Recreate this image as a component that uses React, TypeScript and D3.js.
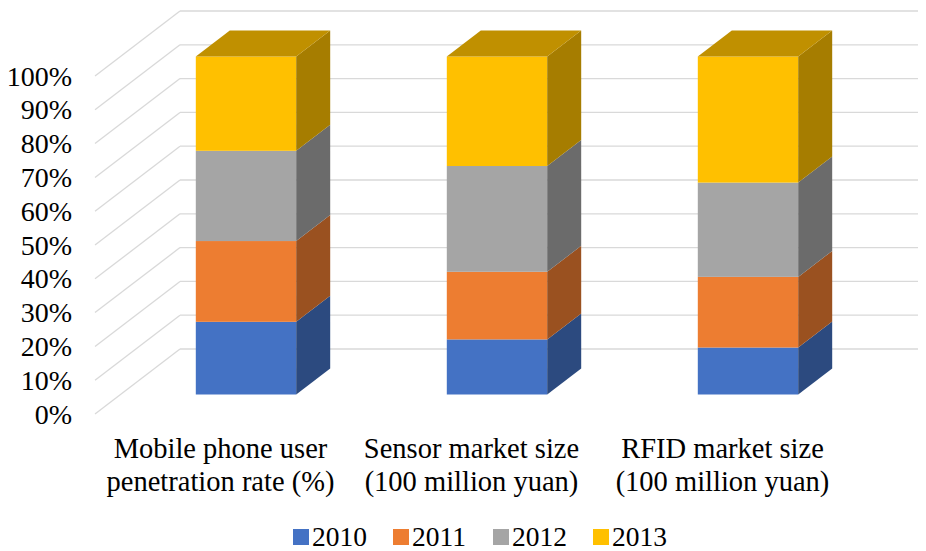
import React from "react";
import * as d3 from "d3";

// Share of each year within each indicator (percent of the column total)
const categories = [
  "Mobile phone user penetration rate (%)",
  "Sensor market size (100 million yuan)",
  "RFID market size (100 million yuan)",
];
const categoryLines = [
  ["Mobile phone user", "penetration rate (%)"],
  ["Sensor market size", "(100 million yuan)"],
  ["RFID market size", "(100 million yuan)"],
];
const years = ["2010", "2011", "2012", "2013"];
const values2010 = [21.5, 16.3, 13.9];
const values2011 = [23.9, 20.0, 20.9];
const values2012 = [26.7, 31.3, 27.9];
const values2013 = [27.9, 32.4, 37.3];
const tickValues = d3.range(0, 1.0001, 0.1);

const W = 926;
const H = 551;
const FONT = "Liberation Serif";

// series colours: front face, side face, top face
const colors: Record<string, { front: string; side: string; top: string }> = {
  "2010": { front: "#4472C4", side: "#2C4A7F", top: "#335A9C" },
  "2011": { front: "#ED7D31", side: "#9A5120", top: "#BB6327" },
  "2012": { front: "#A5A5A5", side: "#6B6B6B", top: "#838383" },
  "2013": { front: "#FFC000", side: "#A67D00", top: "#C09000" },
};

// oblique depth vector of the floor (front edge -> back wall)
const DX = 85;
const DY = -65;
const BAR_D0 = 0.3; // bar front plane, fraction of depth
const BAR_D1 = 0.7; // bar back plane

const css = `
  .chart-text { font-family: "Liberation Serif", "Times New Roman", Tinos, serif !important; fill: #000; }
`;

export default function App() {
  const rows = categories.map((c, i) => ({
    category: c,
    "2010": values2010[i],
    "2011": values2011[i],
    "2012": values2012[i],
    "2013": values2013[i],
  }));

  const stacked = d3
    .stack<any>()
    .keys(years)
    .offset(d3.stackOffsetExpand)(rows);

  const x = d3
    .scaleBand<string>()
    .domain(categories)
    .range([95, 848])
    .paddingInner(0.6)
    .paddingOuter(0.3);
  const y = d3.scaleLinear().domain([0, 1]).range([414, 76]);
  const band = d3.scaleBand<string>().domain(categories).range([95, 848]);

  const fmt = d3.format(".0%");
  const pt = (px: number, py: number, d: number) =>
    `${px + d * DX},${py + d * DY}`;

  const legendX = d3.scalePoint<string>().domain(years).range([293, 593]);

  return (
    <svg
      width={W}
      height={H}
      style={{ display: "block", margin: "-8px 0 0 -8px", background: "#fff" }}
    >
      <style>{css}</style>

      {/* back wall gridlines */}
      <g stroke="#D9D9D9" strokeWidth={1.3} fill="none">
        {tickValues.map((t) => (
          <line
            key={"b" + t}
            x1={95 + DX}
            x2={848 + DX}
            y1={y(t) + DY}
            y2={y(t) + DY}
          />
        ))}
        {/* side wall gridlines */}
        {tickValues.map((t) => (
          <line
            key={"s" + t}
            x1={95}
            y1={y(t)}
            x2={95 + DX}
            y2={y(t) + DY}
          />
        ))}
      </g>

      {/* stacked 3D columns */}
      {categories.map((c, ci) => {
        const x0 = x(c)! + BAR_D0 * DX;
        const x1 = x0 + x.bandwidth();
        const dd = BAR_D1 - BAR_D0;
        return (
          <g key={c}>
            {stacked.map((s, si) => {
              const col = colors[s.key];
              const yb = y(s[ci][0]) + BAR_D0 * DY;
              const yt = y(s[ci][1]) + BAR_D0 * DY;
              const isTop = si === stacked.length - 1;
              return (
                <g key={s.key}>
                  <rect
                    x={x0}
                    y={yt}
                    width={x1 - x0}
                    height={yb - yt}
                    fill={col.front}
                  />
                  <polygon
                    points={[
                      pt(x1, yb, 0),
                      pt(x1, yb, dd),
                      pt(x1, yt, dd),
                      pt(x1, yt, 0),
                    ].join(" ")}
                    fill={col.side}
                  />
                  {isTop && (
                    <polygon
                      points={[
                        pt(x0, yt, 0),
                        pt(x1, yt, 0),
                        pt(x1, yt, dd),
                        pt(x0, yt, dd),
                      ].join(" ")}
                      fill={col.top}
                    />
                  )}
                </g>
              );
            })}
          </g>
        );
      })}

      {/* value axis labels */}
      {tickValues.map((t) => (
        <text
          key={"t" + t}
          className="chart-text"
          x={72}
          y={y(t) + 9.5}
          textAnchor="end"
          fontSize={28}
          fontFamily={FONT}
          style={{ fontFamily: FONT }}
        >
          {fmt(t)}
        </text>
      ))}

      {/* category labels */}
      {categories.map((c, i) => {
        const cx = band(c)! + band.bandwidth() / 2;
        return (
          <g key={c}>
            <text
              className="chart-text"
              x={cx}
              y={458}
              textAnchor="middle"
              fontSize={28.5}
              fontFamily={FONT}
              style={{ fontFamily: FONT }}
            >
              {categoryLines[i][0]}
            </text>
            <text
              className="chart-text"
              x={cx}
              y={491}
              textAnchor="middle"
              fontSize={28.5}
              fontFamily={FONT}
              style={{ fontFamily: FONT }}
            >
              {categoryLines[i][1]}
            </text>
          </g>
        );
      })}

      {/* legend */}
      {years.map((yr) => {
        const lx = legendX(yr)!;
        return (
          <g key={yr}>
            <rect x={lx} y={529} width={16} height={16} fill={colors[yr].front} />
            <text
              className="chart-text"
              x={lx + 19}
              y={545.5}
              fontSize={27.5}
              fontFamily={FONT}
              style={{ fontFamily: FONT }}
            >
              {yr}
            </text>
          </g>
        );
      })}
    </svg>
  );
}
